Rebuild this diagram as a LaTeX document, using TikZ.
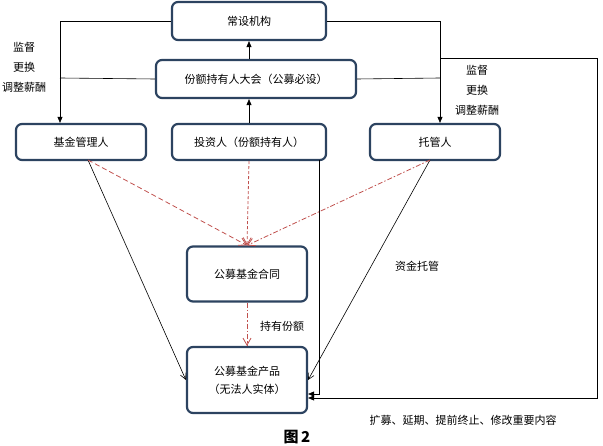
\documentclass[tikz,border=0pt]{standalone}
\usepackage{fontspec}
\setmainfont{Noto Sans CJK SC}
\usetikzlibrary{arrows.meta}
\definecolor{bx}{HTML}{2C4360}
\definecolor{rd}{HTML}{C0504D}
\begin{document}
\begin{tikzpicture}[x=1pt,y=-1pt,font=\fontsize{11}{13}\selectfont,
 box/.style={draw=bx,line width=2.2pt,rounded corners=6pt,align=center,inner sep=0pt},
 ln/.style={black,line width=0.6pt},
 arr/.style={ln,-{Triangle[length=6pt,width=5pt]}},
 oarr/.style={ln,-{Straight Barb[length=6pt,width=6pt]}},
 red/.style={rd,line width=0.8pt,-{Straight Barb[length=7pt,width=8pt]}},
 lab/.style={align=center,font=\fontsize{11}{20}\selectfont}]
\useasboundingbox (0,0) rectangle (603,446);
\node[box,minimum width=154,minimum height=38] (cs) at (249,21) {常设机构};
\node[box,minimum width=200,minimum height=38] (dh) at (256,79) {份额持有人大会（公募必设）};
\node[box,minimum width=130,minimum height=36] (gl) at (81,142) {基金管理人};
\node[box,minimum width=154,minimum height=36] (tz) at (249,142) {投资人（份额持有人）};
\node[box,minimum width=130,minimum height=36] (tg) at (435,142) {托管人};
\node[box,minimum width=120,minimum height=55] (ht) at (247,274) {公募基金合同};
\node[box,minimum width=120,minimum height=66,font=\fontsize{11}{18}\selectfont] (cp) at (247,380) {公募基金产品\\（无法人实体）};
\coordinate (L1) at (60,21); \coordinate (L2) at (60,78);
\coordinate (R1) at (440,21); \coordinate (R2) at (440,78); \coordinate (R3) at (440,58);
\coordinate (F1) at (597,58); \coordinate (F2) at (597,398);
\coordinate (V1) at (319,160); \coordinate (V2) at (319,394);
\draw[arr] (cs.west) -- (L1) -- (gl.north -| L1);
\draw[ln] (dh.west) -- (L2);
\draw[arr] (cs.east) -- (R1) -- (tg.north -| R1);
\draw[ln] (dh.east) -- (R2);
\draw[arr] (R3) -- (F1) -- (F2) -- (cp.east |- F2);
\draw[arr] (V1) -- (V2) -- (cp.east |- V2);
\draw[arr] (dh.north -| cs) -- (cs.south);
\draw[arr] (tz.north) -- (tz.north |- dh.south);
\draw[oarr] (88,160) -- (cp.west);
\draw[oarr] (430,160) -- (cp.east);
\draw[red,dash pattern=on 5pt off 3pt] (88,160) -- (ht.north);
\draw[red,dash pattern=on 3pt off 2pt] (tz.south) -- (ht.north);
\draw[red,dash pattern=on 5pt off 2pt on 1.5pt off 2pt] (430,160) -- (ht.north);
\draw[red,dash pattern=on 5pt off 2pt on 1.5pt off 2pt] (ht.south) -- (cp.north);
\node[lab] (lt) at (24,67) {监督\\更换\\调整薪酬};
\node[lab] (rt) at (477,90) {监督\\更换\\调整薪酬};
\node (cy) at (282,326) {持有份额};
\node (zj) at (417,266) {资金托管};
\node (kz) at (463,420) {扩募、延期、提前终止、修改重要内容};
\node[font=\fontsize{15}{17}\selectfont\bfseries] (t2) at (297,437) {图\,2};
\end{tikzpicture}
\end{document}
